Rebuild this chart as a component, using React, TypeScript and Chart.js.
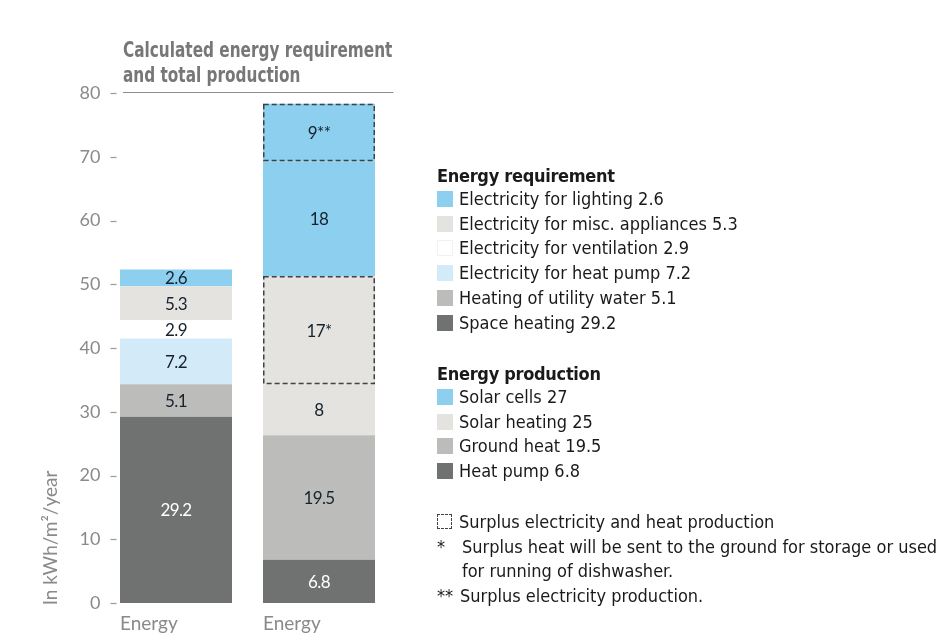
import React, { useEffect, useRef } from "react";
import { Chart, registerables } from "chart.js";

Chart.register(...registerables);

// ---------- data ----------
const categories = ["Energy", "Energy"];

const requirementLabels = [
  "Space heating",
  "Heating of utility water",
  "Electricity for heat pump",
  "Electricity for ventilation",
  "Electricity for misc. appliances",
  "Electricity for lighting",
];
const requirementValues = [29.2, 5.1, 7.2, 2.9, 5.3, 2.6];
const requirementColors = ["#707171", "#bcbcba", "#d3eaf8", "#ffffff", "#e4e3df", "#8ccfef"];

const productionLabels = [
  "Heat pump",
  "Ground heat",
  "Solar heating",
  "Surplus heat",
  "Solar cells",
  "Surplus electricity",
];
const productionValues = [6.8, 19.5, 8, 17, 18, 9];
const productionSuffix = ["", "", "", "*", "", "**"];
const productionSurplus = [false, false, false, true, false, true];
const productionColors = ["#707171", "#bcbcba", "#e4e3df", "#e4e3df", "#8ccfef", "#8ccfef"];

const requirementLegendLabels = [
  "Electricity for lighting",
  "Electricity for misc. appliances",
  "Electricity for ventilation",
  "Electricity for heat pump",
  "Heating of utility water",
  "Space heating",
];
const requirementLegendValues = ["2.6", "5.3", "2.9", "7.2", "5.1", "29.2"];
const requirementLegendColors = ["#8ccfef", "#e4e3df", "#ffffff", "#d3eaf8", "#bcbcba", "#707171"];

const productionLegendLabels = ["Solar cells", "Solar heating", "Ground heat", "Heat pump"];
const productionLegendValues = ["27", "25", "19.5", "6.8"];
const productionLegendColors = ["#8ccfef", "#e4e3df", "#bcbcba", "#707171"];

const yTickValues = [0, 10, 20, 30, 40, 50, 60, 70, 80];

const titleLines = ["Calculated energy requirement", "and total production"];
const yAxisTitle = "In kWh/m\u00b2/year";

const NARROW = "'Liberation Sans Narrow', 'DejaVu Sans Condensed', 'Arial Narrow', sans-serif";
const WIDE = "Lato, 'Open Sans', sans-serif";

const darkSegment = "#707171";

const overlayPlugin = {
  id: "overlay",
  afterDatasetsDraw(chart: any) {
    const ctx = chart.ctx as CanvasRenderingContext2D;
    const yScale = chart.scales.y;
    const area = chart.chartArea;
    ctx.save();

    // y tick dashes
    ctx.strokeStyle = "#a0a0a0";
    ctx.lineWidth = 1.3;
    yTickValues.forEach((v) => {
      const py = Math.round(yScale.getPixelForValue(v)) + 0.5;
      ctx.beginPath();
      ctx.moveTo(area.left + 6, py);
      ctx.lineTo(area.left + 12, py);
      ctx.stroke();
    });

    let firstBarLeft = area.left;
    const barLefts: number[] = [];

    chart.data.datasets.forEach((ds: any, di: number) => {
      const meta = chart.getDatasetMeta(di);
      meta.data.forEach((bar: any, i: number) => {
        const v = ds.data[i];
        if (v == null) return;
        const p = bar.getProps(["x", "y", "base", "width"], true);
        const left = p.x - p.width / 2;
        const right = p.x + p.width / 2;
        barLefts[i] = left;
        if (i === 0) firstBarLeft = left;
        // surplus dashed box
        if (ds.surplus) {
          ctx.save();
          ctx.setLineDash([5, 3]);
          ctx.strokeStyle = "#3e4246";
          ctx.lineWidth = 1.5;
          ctx.strokeRect(left + 0.75, p.y + 0.75, right - left - 1.5, p.base - p.y - 1.5);
          ctx.restore();
        }
        // value label
        const bg = Array.isArray(ds.backgroundColor) ? ds.backgroundColor[i] : ds.backgroundColor;
        ctx.fillStyle = bg === darkSegment ? "#ffffff" : "#17222e";
        ctx.font = `17px ${WIDE}`;
        ctx.textAlign = "center";
        ctx.textBaseline = "middle";
        (ctx as any).letterSpacing = "-0.6px";
        ctx.fillText(String(v) + (ds.suffix || ""), p.x, (p.y + p.base) / 2 + 1);
        (ctx as any).letterSpacing = "0px";
      });
    });

    // category labels under bars, left aligned with bars
    ctx.fillStyle = "#8a8a8a";
    ctx.font = `19px ${WIDE}`;
    ctx.textAlign = "left";
    ctx.textBaseline = "alphabetic";
    categories.forEach((c, i) => {
      if (barLefts[i] != null) ctx.fillText(c, barLefts[i], area.bottom + 27);
    });

    // title rule aligned with the top of the value axis
    ctx.strokeStyle = "#8c8c8c";
    ctx.lineWidth = 1;
    const ty = Math.round(area.top) - 0.5;
    ctx.beginPath();
    ctx.moveTo(firstBarLeft + 3, ty);
    ctx.lineTo(area.right + 3, ty);
    ctx.stroke();

    // rotated y axis title
    ctx.save();
    ctx.translate(area.left - 54, area.bottom - 65);
    ctx.rotate(-Math.PI / 2);
    ctx.fillStyle = "#8a8a8a";
    ctx.font = `19px ${WIDE}`;
    ctx.textAlign = "center";
    ctx.textBaseline = "middle";
    ctx.fillText(yAxisTitle, 0, 0);
    ctx.restore();

    ctx.restore();
  },
};

function Swatch({ color, dashed }: { color?: string; dashed?: boolean }) {
  return (
    <span
      style={{
        position: "absolute",
        left: 0,
        top: 4,
        width: dashed ? 15 : 16,
        height: dashed ? 15 : 16,
        background: dashed ? "transparent" : color,
        border: dashed ? "1px dashed #444" : color === "#ffffff" ? "1px solid #f2f2f2" : "none",
        boxSizing: "border-box",
      }}
    />
  );
}

function Row({ top, left, children }: { top: number; left: number; children: React.ReactNode }) {
  return (
    <div
      style={{
        position: "absolute",
        left,
        top: top - 12,
        height: 24,
        lineHeight: "24px",
        fontFamily: NARROW,
        fontSize: 18,
        color: "#1a1a1a",
        whiteSpace: "nowrap",
      }}
    >
      {children}
    </div>
  );
}

export default function App() {
  const canvasRef = useRef<HTMLCanvasElement | null>(null);

  useEffect(() => {
    if (!canvasRef.current) return;
    const datasets: any[] = [];
    requirementValues.forEach((v, i) => {
      datasets.push({
        label: requirementLabels[i],
        data: [v, null],
        backgroundColor: [requirementColors[i], requirementColors[i]],
        stack: "s",
        suffix: "",
        surplus: false,
      });
    });
    productionValues.forEach((v, i) => {
      datasets.push({
        label: productionLabels[i],
        data: [null, v],
        backgroundColor: [productionColors[i], productionColors[i]],
        stack: "s",
        suffix: productionSuffix[i],
        surplus: productionSurplus[i],
      });
    });
    const chart = new Chart(canvasRef.current, {
      type: "bar",
      data: { labels: categories, datasets },
      options: {
        responsive: false,
        animation: false,
        devicePixelRatio: 1,
        layout: { padding: { top: 93, bottom: 35, left: 0, right: 561.5 } },
        datasets: { bar: { categoryPercentage: 1, barPercentage: 112 / 143, borderWidth: 0 } },
        plugins: { legend: { display: false }, tooltip: { enabled: false }, title: { display: false } },
        scales: {
          x: { stacked: true, display: false, offset: true },
          y: {
            stacked: true,
            min: 0,
            max: 80,
            afterFit: (s: any) => {
              s.width = 104.5;
            },
            ticks: { stepSize: 10, padding: 4, color: "#8a8a8a", font: { family: WIDE, size: 18 } },
            grid: { display: false, drawTicks: false },
            border: { display: false },
          },
        },
      } as any,
      plugins: [overlayPlugin],
    });
    return () => chart.destroy();
  }, []);

  const reqTop = 199;
  const prodTop = 397;
  const step = 24.7;

  return (
    <div style={{ position: "absolute", left: 0, top: 0, width: 952, height: 638, background: "#fff", overflow: "hidden" }}>
      <canvas ref={canvasRef} width={952} height={638} style={{ position: "absolute", left: 0, top: 0 }} />
      {/* title */}
      {titleLines.map((t, i) => (
        <div
          key={t}
          style={{
            position: "absolute",
            left: 123,
            top: 38 + i * 24.5,
            lineHeight: "24px",
            fontFamily: NARROW,
            fontWeight: 700,
            fontSize: 20.5,
            color: "#777777",
            whiteSpace: "nowrap",
            transform: "scaleX(0.83)",
            transformOrigin: "0 50%",
          }}
        >
          {t}
        </div>
      ))}

      {/* requirement legend */}
      <Row top={176} left={437}>
        <span style={{ fontWeight: 700, letterSpacing: "-0.3px" }}>Energy requirement</span>
      </Row>
      {requirementLegendLabels.map((l, i) => (
        <Row key={l} top={reqTop + i * step} left={437}>
          <Swatch color={requirementLegendColors[i]} />
          <span style={{ marginLeft: 22 }}>
            {l} {requirementLegendValues[i]}
          </span>
        </Row>
      ))}

      {/* production legend */}
      <Row top={373.5} left={437}>
        <span style={{ fontWeight: 700, letterSpacing: "-0.3px" }}>Energy production</span>
      </Row>
      {productionLegendLabels.map((l, i) => (
        <Row key={l} top={prodTop + i * step} left={437}>
          <Swatch color={productionLegendColors[i]} />
          <span style={{ marginLeft: 22 }}>
            {l} {productionLegendValues[i]}
          </span>
        </Row>
      ))}

      {/* footnotes */}
      <Row top={521.5} left={437}>
        <Swatch dashed />
        <span style={{ marginLeft: 22 }}>Surplus electricity and heat production</span>
      </Row>
      <Row top={546.5} left={437}>
        <span>*</span>
      </Row>
      <Row top={546.5} left={462}>
        <span>Surplus heat will be sent to the ground for storage or used</span>
      </Row>
      <Row top={571} left={462}>
        <span>for running of dishwasher.</span>
      </Row>
      <Row top={595.5} left={437}>
        <span>**</span>
      </Row>
      <Row top={595.5} left={460}>
        <span>Surplus electricity production.</span>
      </Row>
    </div>
  );
}
